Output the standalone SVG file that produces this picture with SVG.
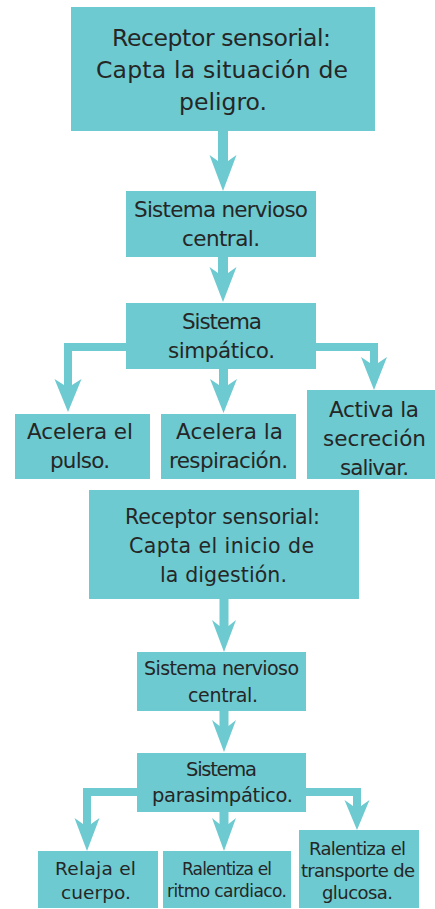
<svg xmlns="http://www.w3.org/2000/svg" width="435" height="909" viewBox="0 0 435 909">
<style>
.box{fill:#6ccad0}
.arr{fill:#6ccad0}
text{font-family:"DejaVu Sans","Noto Sans",sans-serif;fill:#262626;text-anchor:middle}
.f235{font-size:23.5px}
.f215{font-size:21.5px}
.f205{font-size:20.5px}
.f195{font-size:19.5px}
.f19{font-size:19px}
.f185{font-size:18.5px}
.f18{font-size:18px}
.f17{font-size:17px}
</style>
<rect width="435" height="909" fill="#ffffff"/>
<g id="connectors">
<path class="arr" d="M218,131 H228 V161 L236.5,155 L223,191 L209.5,155 L218,161 Z"/>
<path class="arr" d="M218,257 H228 V273 L236.5,267 L223,302 L209.5,267 L218,273 Z"/>
<path class="arr" d="M219,369 H228 V385 L237,379 L223.5,413 L210,379 L219,385 Z"/>
<path class="arr" d="M126,343 H64 V385 L54.5,379 L68,412 L81.5,379 L72,385 V351 H126 Z"/>
<path class="arr" d="M316,343 H378 V363 L387,357 L374,390 L361,357 L370,363 V351 H316 Z"/>
<path class="arr" d="M219.5,599 H228.5 V626 L236,620 L224,652 L212,620 L219.5,626 Z"/>
<path class="arr" d="M219.5,711 H228.5 V726 L236,720 L224,752 L212,720 L219.5,726 Z"/>
<path class="arr" d="M219.5,812 H228.5 V824 L236,818 L224,851 L212,818 L219.5,824 Z"/>
<path class="arr" d="M137,788 H83 V824 L74.5,818 L87,851 L99.5,818 L91,824 V796 H137 Z"/>
<path class="arr" d="M306,788 H361 V806 L369.5,800 L357,830 L344.5,800 L353,806 V796 H306 Z"/>
</g>
<g id="n1">
<rect class="box" x="71" y="7" width="304" height="124"/>
<text class="f235" x="221.5" y="46" textLength="219">Receptor sensorial:</text>
<text class="f235" x="222" y="78" textLength="252">Capta la situación de</text>
<text class="f235" x="223" y="110" textLength="88">peligro.</text>
</g>
<g id="n2">
<rect class="box" x="126" y="191" width="190" height="66"/>
<text class="f215" x="221" y="217" textLength="174">Sistema nervioso</text>
<text class="f215" x="221" y="245.5" textLength="78">central.</text>
</g>
<g id="n3">
<rect class="box" x="126" y="303" width="190" height="66"/>
<text class="f215" x="222" y="329" textLength="80">Sistema</text>
<text class="f215" x="221.5" y="358" textLength="107">simpático.</text>
</g>
<g id="n4">
<rect class="box" x="15" y="414" width="135" height="65"/>
<text class="f215" x="80" y="439" textLength="106">Acelera el</text>
<text class="f215" x="80" y="468" textLength="60">pulso.</text>
</g>
<g id="n5">
<rect class="box" x="161" y="414" width="135" height="65"/>
<text class="f215" x="229.5" y="439" textLength="107">Acelera la</text>
<text class="f215" x="228.5" y="468" textLength="119">respiración.</text>
</g>
<g id="n6">
<rect class="box" x="307" y="390" width="128" height="89"/>
<text class="f215" x="374" y="417" textLength="90">Activa la</text>
<text class="f215" x="374.5" y="446" textLength="103">secreción</text>
<text class="f215" x="374.5" y="475" textLength="69">salivar.</text>
</g>
<g id="n7">
<rect class="box" x="89" y="490" width="270" height="109"/>
<text class="f205" x="222.5" y="524" textLength="195">Receptor sensorial:</text>
<text class="f205" x="221.5" y="553" textLength="185">Capta el inicio de</text>
<text class="f205" x="223.5" y="582" textLength="127">la digestión.</text>
</g>
<g id="n8">
<rect class="box" x="137" y="652" width="169" height="59"/>
<text class="f19" x="221.5" y="675" textLength="155">Sistema nervioso</text>
<text class="f19" x="223" y="702" textLength="70">central.</text>
</g>
<g id="n9">
<rect class="box" x="137" y="753" width="169" height="59"/>
<text class="f195" x="221.5" y="776" textLength="71">Sistema</text>
<text class="f195" x="222.5" y="802" textLength="141">parasimpático.</text>
</g>
<g id="n10">
<rect class="box" x="38" y="851" width="120" height="57"/>
<text class="f185" x="95.5" y="875" textLength="81">Relaja el</text>
<text class="f185" x="96" y="899" textLength="70">cuerpo.</text>
</g>
<g id="n11">
<rect class="box" x="163" y="851" width="128" height="57"/>
<text class="f17" x="227" y="875" textLength="90">Ralentiza el</text>
<text class="f17" x="227" y="897" textLength="120">ritmo cardiaco.</text>
</g>
<g id="n12">
<rect class="box" x="299" y="830" width="120" height="78"/>
<text class="f18" x="357.5" y="855" textLength="97">Ralentiza el</text>
<text class="f18" x="358" y="877" textLength="114">transporte de</text>
<text class="f18" x="357.5" y="899" textLength="71">glucosa.</text>
</g>
</svg>
